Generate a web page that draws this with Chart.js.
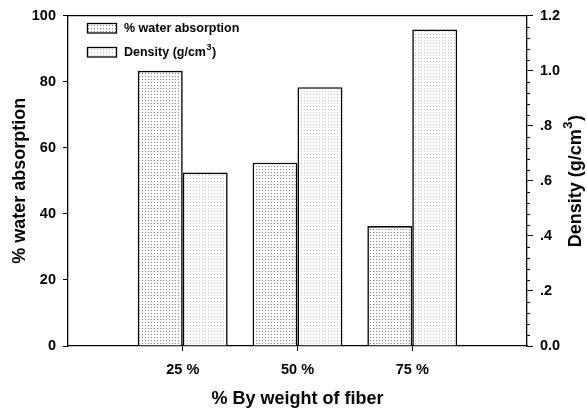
<!DOCTYPE html>
<html>
<head>
<meta charset="utf-8">
<script src="https://cdn.jsdelivr.net/npm/chart.js@4.4.0/dist/chart.umd.min.js"></script>
<style>
  html, body { margin: 0; padding: 0; background: #fff; }
</style>
</head>
<body>
<canvas id="chart" width="587" height="410"></canvas>
<script>
// Data
const fiberPct = [25, 50, 75];              // % by weight of fiber
const waterAbsorption = [83.3, 55.5, 36.3]; // % water absorption (left axis)
const density = [0.63, 0.94, 1.15];         // g/cm3 (right axis)
const xTickValues = [25, 50, 75];

const FONT = '"Liberation Sans", Arial, sans-serif';

const ctx = document.getElementById('chart').getContext('2d');

// stipple fills
function dotPattern(dotColor) {
    const c = document.createElement('canvas');
    c.width = 3; c.height = 3;
    const g = c.getContext('2d');
    g.fillStyle = '#fff';
    g.fillRect(0, 0, 3, 3);
    g.fillStyle = dotColor;
    g.fillRect(1, 1, 1, 1);
    return ctx.createPattern(c, 'repeat');
}
const waterFill = dotPattern('#808080');
const densityFill = dotPattern('#c4c4c4');

// draws "main" + superscript + "tail" starting at x (left aligned, middle baseline)
function drawSupText(c, x, y, main, sup, tail, size) {
    c.font = `bold ${size}px ${FONT}`;
    c.textBaseline = 'middle';
    c.textAlign = 'left';
    c.fillText(main, x, y);
    let w = c.measureText(main).width;
    c.font = `bold ${Math.round(size * 0.7)}px ${FONT}`;
    c.fillText(sup, x + w + 0.5, y - size * 0.4);
    w += c.measureText(sup).width + 1;
    c.font = `bold ${size}px ${FONT}`;
    c.fillText(tail, x + w, y);
}
function supTextWidth(c, main, sup, tail, size) {
    c.font = `bold ${size}px ${FONT}`;
    let w = c.measureText(main).width + c.measureText(tail).width;
    c.font = `bold ${Math.round(size * 0.7)}px ${FONT}`;
    return w + c.measureText(sup).width + 1.5;
}

const extras = {
    id: 'extras',
    afterDraw(chart) {
        const c = chart.ctx;
        const a = chart.chartArea;
        const y1 = chart.scales.y1;
        c.save();
        c.strokeStyle = '#000';
        c.fillStyle = '#000';

        // top frame line
        c.lineWidth = 1.3;
        c.beginPath();
        c.moveTo(a.left, a.top);
        c.lineTo(a.right, a.top);
        c.stroke();

        // minor ticks on the density axis
        c.lineWidth = 1;
        for (let i = 0; i <= 30; i++) {
            if (i % 5 === 0) continue;
            const py = Math.round(y1.getPixelForValue(i * 0.04)) + 0.5;
            c.beginPath();
            c.moveTo(a.right, py);
            c.lineTo(a.right + 3, py);
            c.stroke();
        }

        // legend
        const lx = a.left + 19.5, sw = 29, sh = 9.5;
        const rows = [
            { y: 23.5, fill: waterFill, main: '% water absorption', sup: '', tail: '' },
            { y: 47.5, fill: densityFill, main: 'Density (g/cm', sup: '3', tail: ')' }
        ];
        rows.forEach(r => {
            c.fillStyle = r.fill;
            c.fillRect(lx, r.y, sw, sh);
            c.lineWidth = 1.3;
            c.strokeStyle = '#000';
            c.strokeRect(lx, r.y, sw, sh);
            c.fillStyle = '#000';
            drawSupText(c, a.left + 56, r.y + 5, r.main, r.sup, r.tail, 12.5);
        });

        // right axis title, reading bottom to top
        const size = 18;
        const w = supTextWidth(c, 'Density (g/cm', '3', ')', size);
        c.translate(576, (a.top + a.bottom) / 2);
        c.rotate(-Math.PI / 2);
        drawSupText(c, -w / 2, 0, 'Density (g/cm', '3', ')', size);
        c.restore();
    }
};

const tickFont = { family: FONT, size: 14.5, weight: 'bold' };
const titleFont = { family: FONT, size: 18, weight: 'bold' };

new Chart(ctx, {
    type: 'bar',
    data: {
        datasets: [
            {
                label: '% water absorption',
                data: fiberPct.map((x, i) => ({ x: x, y: waterAbsorption[i] })),
                yAxisID: 'y',
                backgroundColor: waterFill,
                borderColor: '#000',
                borderWidth: 1.6,
                categoryPercentage: 0.783,
                barPercentage: 1
            },
            {
                label: 'Density (g/cm3)',
                data: fiberPct.map((x, i) => ({ x: x, y: density[i] })),
                yAxisID: 'y1',
                backgroundColor: densityFill,
                borderColor: '#000',
                borderWidth: 1.6,
                categoryPercentage: 0.783,
                barPercentage: 1
            }
        ]
    },
    options: {
        responsive: false,
        animation: false,
        layout: { padding: { top: 15, left: 0, right: 0, bottom: 0 } },
        plugins: {
            legend: { display: false },
            tooltip: { enabled: false }
        },
        scales: {
            x: {
                type: 'linear',
                min: 0,
                max: 100,
                offset: false,
                afterBuildTicks: s => { s.ticks = xTickValues.map(v => ({ value: v })); },
                afterFit: s => { s.height = 64; },
                grid: { drawOnChartArea: false, offset: false, tickLength: 5, tickColor: '#000' },
                border: { color: '#000', width: 1.3 },
                ticks: {
                    color: '#000',
                    font: tickFont,
                    padding: 10,
                    maxRotation: 0,
                    callback: v => v + ' %'
                },
                title: {
                    display: true,
                    text: '% By weight of fiber',
                    color: '#000',
                    font: titleFont,
                    padding: { top: 0, bottom: 0 }
                }
            },
            y: {
                position: 'left',
                min: 0,
                max: 100,
                afterFit: s => { s.width = 68; },
                grid: { drawOnChartArea: false, tickLength: 5, tickColor: '#000' },
                border: { color: '#000', width: 1.3 },
                ticks: { stepSize: 20, color: '#000', font: tickFont, padding: 7 },
                title: {
                    display: true,
                    text: '% water absorption',
                    color: '#000',
                    font: titleFont,
                    padding: { top: 9, bottom: 0 }
                }
            },
            y1: {
                position: 'right',
                min: 0,
                max: 1.2,
                afterFit: s => { s.width = 60; },
                grid: { drawOnChartArea: false, tickLength: 6, tickColor: '#000' },
                border: { color: '#000', width: 1.3 },
                ticks: {
                    stepSize: 0.2,
                    color: '#000',
                    font: tickFont,
                    padding: 7,
                    callback: v => {
                        const s = v.toFixed(1);
                        return (v > 0 && v < 1) ? s.replace(/^0/, '') : s;
                    }
                }
            }
        }
    },
    plugins: [extras]
});
</script>
</body>
</html>
